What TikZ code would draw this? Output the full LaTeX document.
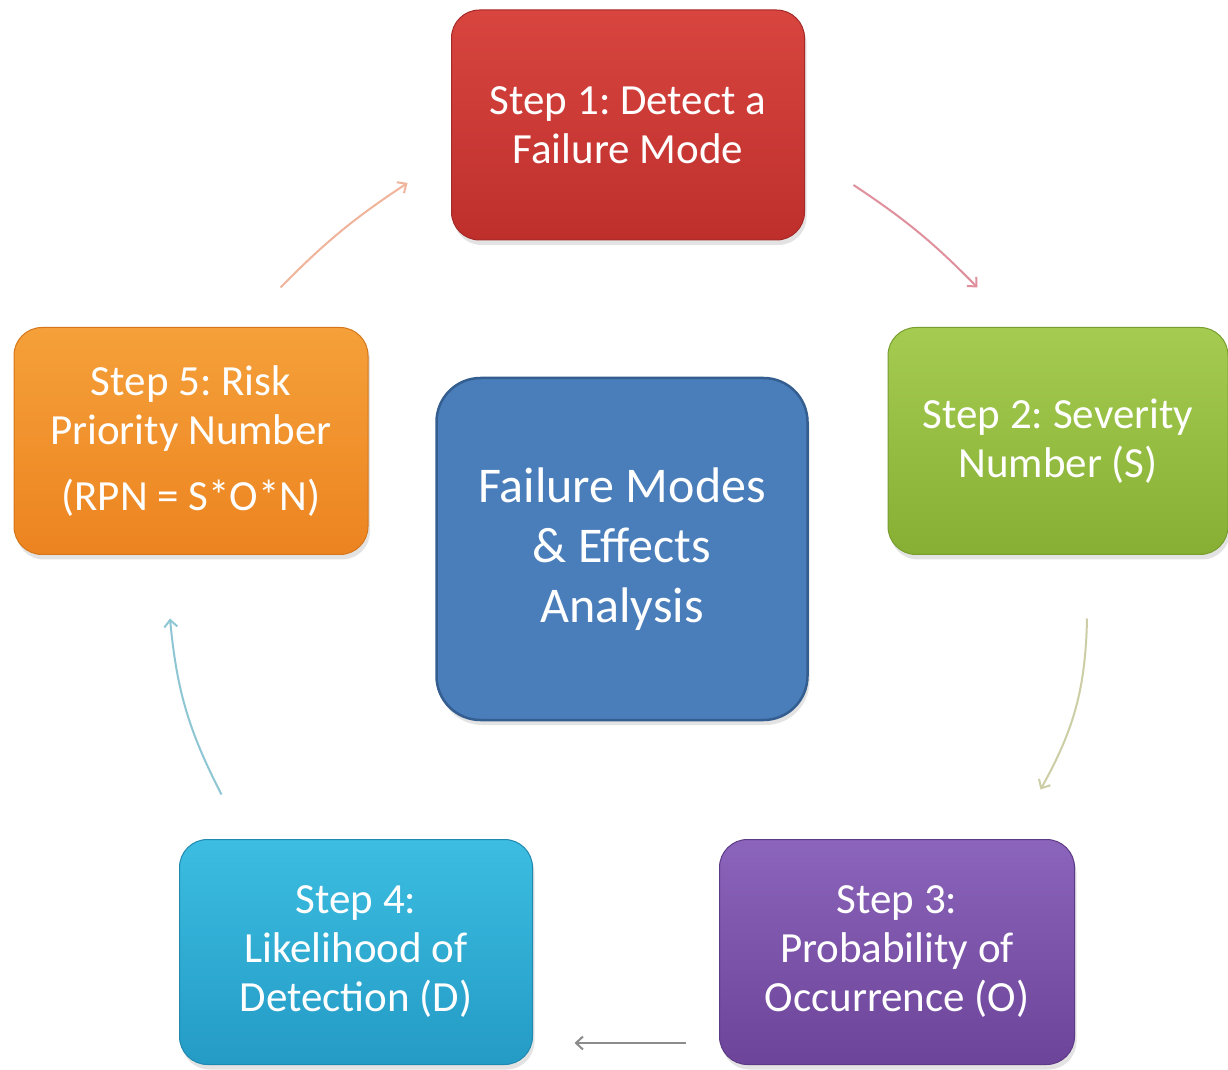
\documentclass[tikz,border=0pt]{standalone}
\usepackage{fontspec}
\setmainfont{Carlito}
\frenchspacing
\usetikzlibrary{arrows.meta,shadows,calc}

% box fills (top / bottom / outline)
\definecolor{redT}{HTML}{D8453F}
\definecolor{redB}{HTML}{BE2F2C}
\definecolor{redD}{HTML}{A52A27}
\definecolor{grnT}{HTML}{A5CC50}
\definecolor{grnB}{HTML}{86AF34}
\definecolor{grnD}{HTML}{789E2E}
\definecolor{orgT}{HTML}{F5A03A}
\definecolor{orgB}{HTML}{EC8420}
\definecolor{orgD}{HTML}{D5761B}
\definecolor{cynT}{HTML}{3CBDE1}
\definecolor{cynB}{HTML}{249BC5}
\definecolor{cynD}{HTML}{2089B0}
\definecolor{purT}{HTML}{8B64BB}
\definecolor{purB}{HTML}{6C4499}
\definecolor{purD}{HTML}{5D3A86}
\definecolor{ctrF}{HTML}{4A7EBB}
\definecolor{ctrD}{HTML}{345E90}
% connector tints
\definecolor{arA}{HTML}{F0B49A}
\definecolor{arB}{HTML}{E0909C}
\definecolor{arC}{HTML}{CDCDA6}
\definecolor{arD}{HTML}{8C8C8C}
\definecolor{arE}{HTML}{8EC6D4}

\begin{document}
\begin{tikzpicture}[x=1pt,y=1pt,
  box/.style={rectangle, rounded corners=28pt, text=white, align=center,
    inner sep=0pt, line width=1pt,
    font=\fontsize{43}{49}\selectfont,
    drop shadow={opacity=0.22, shadow xshift=2pt, shadow yshift=-5pt}},
  stepbox/.style={box, minimum width=353pt, minimum height=228pt},
  flow/.style={line width=2pt, -{Straight Barb[length=7pt,width=13pt]}}]

\useasboundingbox (0,0) rectangle (1228,1069);
\fill[white] (0,0) rectangle (1228,1069);

% the five steps around the centre
\node[stepbox, top color=redT, bottom color=redB, draw=redD, minimum height=230pt]
  (s1) at (628,944) {Step 1: Detect a\\Failure Mode};
\node[stepbox, top color=grnT, bottom color=grnB, draw=grnD, minimum width=340pt, minimum height=227pt]
  (s2) at (1058,628) {Step 2: Severity\\Number (S)};
\node[stepbox, top color=purT, bottom color=purB, draw=purD, minimum width=355pt, minimum height=225pt]
  (s3) at (897,117) {Step 3:\\Probability of\\Occurrence (O)};
\node[stepbox, top color=cynT, bottom color=cynB, draw=cynD, minimum height=225pt]
  (s4) at (356,117) {Step 4:\\Likelihood of\\Detection (D)};
\node[stepbox, top color=orgT, bottom color=orgB, draw=orgD, minimum width=354pt, minimum height=227pt]
  (s5) at (191,628) {Step 5: Risk\\Priority Number\\[17pt](RPN = S*O*N)};

% central box
\node[box, fill=ctrF, draw=ctrD, line width=2.5pt, rounded corners=44pt,
  minimum width=371pt, minimum height=342pt, font=\fontsize{50}{60}\selectfont]
  (c) at (622,520) {Failure Modes\\\& Effects\\Analysis};

% free ends of the connectors
\coordinate (a5) at ($(s5.north east)+(-88,39.5)$);
\coordinate (b1) at ($(s1.west)+(-43.5,-58)$);
\coordinate (a1) at ($(s1.east)+(48.5,-60)$);
\coordinate (b2) at ($(s2.north west)+(90,39.5)$);
\coordinate (a2) at ($(s2.south)+(29,-63.5)$);
\coordinate (b3) at ($(s3.north east)+(-34.5,49.5)$);
\coordinate (a3) at ($(s3.west)+(-33.5,-91)$);
\coordinate (b4) at ($(s4.east)+(41.5,-91)$);
\coordinate (a4) at ($(s4.north west)+(42.5,44.5)$);
\coordinate (b5) at ($(s5.south)+(-21,-63.5)$);

% cycle connectors
\draw[flow, arA] (a5) to[bend left=6] (b1);
\draw[flow, arB] (a1) to[bend left=6] (b2);
\draw[flow, arC] (a2) to[bend left=14] (b3);
\draw[flow, arD] (a3) -- (b4);
\draw[flow, arE] (a4) to[bend left=11] (b5);
\end{tikzpicture}
\end{document}
